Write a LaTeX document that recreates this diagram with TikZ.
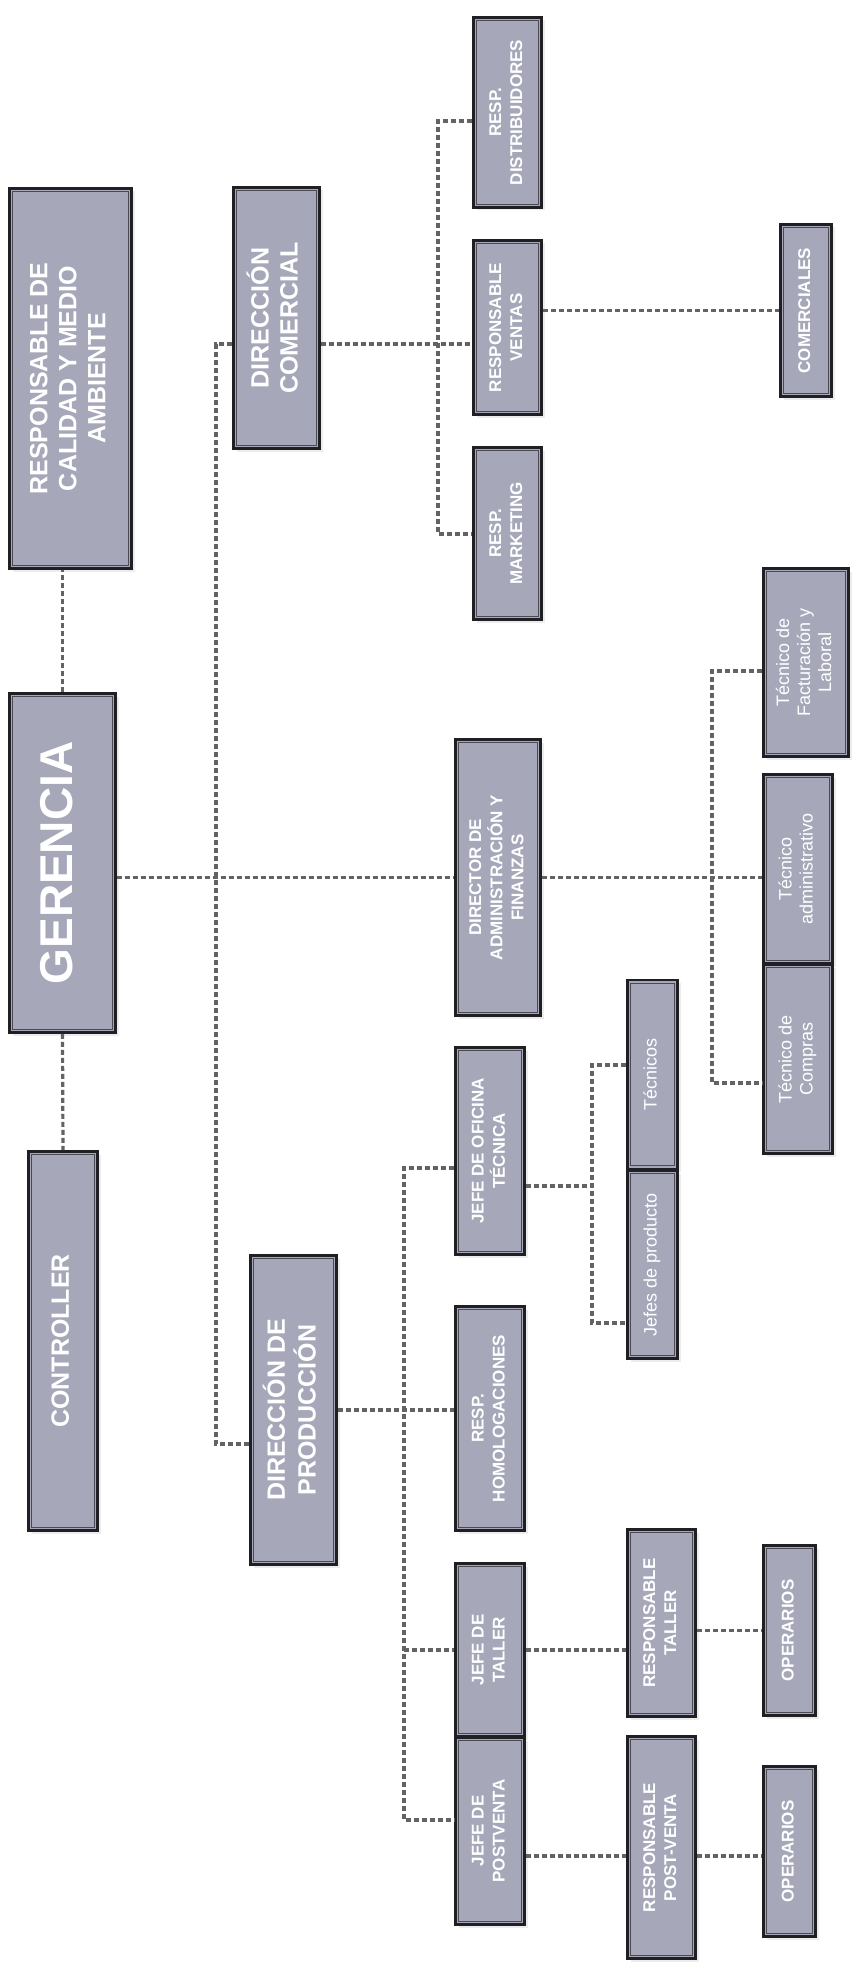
\documentclass[tikz,border=0pt]{standalone}
\usepackage{fontspec}
\setmainfont{Liberation Sans}
\usepackage{graphicx}
\usetikzlibrary{shadows}
\definecolor{cajafondo}{HTML}{A6A8BA}
\definecolor{cajaborde}{HTML}{1F1F24}
\definecolor{cajainterior}{HTML}{4A4A54}
\definecolor{lineagris}{HTML}{636365}
\newcommand{\girar}[1]{\rotatebox{90}{\begin{tabular}{@{}c@{}}#1\end{tabular}}}

\begin{document}
\begin{tikzpicture}[x=1pt, y=-1pt,
  puesto/.style 2 args={draw=cajaborde, line width=2.6pt, fill=cajafondo,
    text=white, inner sep=0pt, minimum width=#1pt, minimum height=#2pt,
    path picture={\draw[cajainterior, line width=0.9pt]
      ([shift={(3.2pt,3.2pt)}]path picture bounding box.south west) rectangle
      ([shift={(-3.2pt,-3.2pt)}]path picture bounding box.north east);},
    drop shadow={opacity=0.15, shadow xshift=3pt, shadow yshift=-3pt}},
  rotG/.style={font=\bfseries\fontsize{46}{50}\selectfont},
  rotM/.style={font=\bfseries\fontsize{25}{29}\selectfont},
  rotS/.style={font=\bfseries\fontsize{17}{21}\selectfont},
  rotT/.style={font=\fontsize{18}{21}\selectfont},
  enlace/.style={draw=lineagris, line width=3.2pt, dash pattern=on 5pt off 3pt}
]
\fill[white] (0,0) rectangle (859,1977);
\useasboundingbox (0,0) rectangle (859,1977);
% top level
\node[puesto={122}{380}, rotM] (calidad) at (70.5,378.5) {\girar{RESPONSABLE DE\\CALIDAD Y MEDIO\\AMBIENTE}};
\node[puesto={106}{339}, rotG] (gerencia) at (62.5,863) {\girar{GERENCIA}};
\node[puesto={69}{379}, rotM] (controller) at (63,1341) {\girar{CONTROLLER}};
% directions
\node[puesto={86}{261}, rotM] (dircom) at (276.5,318) {\girar{DIRECCIÓN\\COMERCIAL}};
\node[puesto={86}{309}, rotM] (dirprod) at (293.5,1410) {\girar{DIRECCIÓN DE\\PRODUCCIÓN}};
\node[puesto={85}{276}, rotS] (diradm) at (498,877.5) {\girar{DIRECTOR DE\\ADMINISTRACIÓN Y\\FINANZAS}};
% comercial
\node[puesto={68}{190}, rotS] (respdist) at (507.5,112.5) {\girar{RESP.\\DISTRIBUIDORES}};
\node[puesto={68}{174}, rotS] (respventas) at (507.5,327.5) {\girar{RESPONSABLE\\VENTAS}};
\node[puesto={68}{172}, rotS] (respmkt) at (507.5,533.5) {\girar{RESP.\\MARKETING}};
\node[puesto={51}{172}, rotS] (comerciales) at (806,310.5) {\girar{COMERCIALES}};
% administracion
\node[puesto={85}{188}, rotT] (tecfact) at (806,662.5) {\girar{Técnico de\\Facturación y\\Laboral}};
\node[puesto={69}{189}, rotT] (tecadm) at (798,869) {\girar{Técnico\\administrativo}};
\node[puesto={69}{189}, rotT] (teccomp) at (798,1059) {\girar{Técnico de\\Compras}};
% produccion
\node[puesto={69}{207}, rotS] (jefeofi) at (490,1151) {\girar{JEFE DE OFICINA\\TÉCNICA}};
\node[puesto={50}{189}, rotT] (tecnicos) at (652.5,1074.5) {\girar{Técnicos}};
\node[puesto={50}{188}, rotT] (jefesprod) at (652.5,1264.5) {\girar{Jefes de producto}};
\node[puesto={69}{224}, rotS] (resphomol) at (490,1418.5) {\girar{RESP.\\HOMOLOGACIONES}};
\node[puesto={69}{173}, rotS] (jefetaller) at (490,1650) {\girar{JEFE DE\\TALLER}};
\node[puesto={69}{187}, rotS] (jefepost) at (490,1831) {\girar{JEFE DE\\POSTVENTA}};
\node[puesto={68}{187}, rotS] (resptaller) at (661.5,1623) {\girar{RESPONSABLE\\TALLER}};
\node[puesto={68}{222}, rotS] (resppost) at (661.5,1847.5) {\girar{RESPONSABLE\\POST-VENTA}};
\node[puesto={52}{170}, rotS] (optaller) at (789.5,1630.5) {\girar{OPERARIOS}};
\node[puesto={52}{170}, rotS] (oppost) at (789.5,1851.5) {\girar{OPERARIOS}};
% branch points
\coordinate (troncoA) at (216,344);
\coordinate (troncoB) at (216,1444);
\coordinate (cDist) at (438,121);
\coordinate (cVen) at (438,344);
\coordinate (cMkt) at (438,534);
\coordinate (aFact) at (712,671);
\coordinate (aComp) at (712,1083);
\coordinate (pOfi) at (404,1168);
\coordinate (pPost) at (404,1820);
\coordinate (oMid) at (592,1186);
\coordinate (oTec) at (592,1065);
\coordinate (oJef) at (592,1323);
\coordinate (tPost) at (560,1856);
% connectors
\draw[enlace] (gerencia.north) -- (gerencia.north |- calidad.south);
\draw[enlace] (gerencia.south) -- (controller.north);
\draw[enlace] (gerencia.east |- diradm.west) -- (diradm.west);
\draw[enlace] (dircom.west |- troncoA) -- (troncoA) -- (troncoB) -- (dirprod.west |- troncoB);
\draw[enlace] (dircom.east |- cVen) -- (respventas.west |- cVen);
\draw[enlace] (respdist.west |- cDist) -- (cDist) -- (cMkt) -- (respmkt.west |- cMkt);
\draw[enlace] (respventas.east |- comerciales.west) -- (comerciales.west);
\draw[enlace] (diradm.east) -- (diradm.east -| tecadm.west);
\draw[enlace] (tecfact.west |- aFact) -- (aFact) -- (aComp) -- (teccomp.west |- aComp);
\draw[enlace] (dirprod.east) -- (dirprod.east -| resphomol.west);
\draw[enlace] (jefeofi.west |- pOfi) -- (pOfi) -- (pPost) -- (jefepost.west |- pPost);
\draw[enlace] (jefetaller.west -| pOfi) -- (jefetaller.west);
\draw[enlace] (jefeofi.east |- oMid) -- (oMid);
\draw[enlace] (tecnicos.west |- oTec) -- (oTec) -- (oJef) -- (jefesprod.west |- oJef);
\draw[enlace] (jefetaller.east) -- (jefetaller.east -| resptaller.west);
\draw[enlace] (resptaller.east |- optaller.west) -- (optaller.west);
\draw[enlace] (jefepost.east |- tPost) -- (resppost.west |- tPost);
\draw[enlace] (resppost.east |- tPost) -- (oppost.west |- tPost);
\end{tikzpicture}
\end{document}
